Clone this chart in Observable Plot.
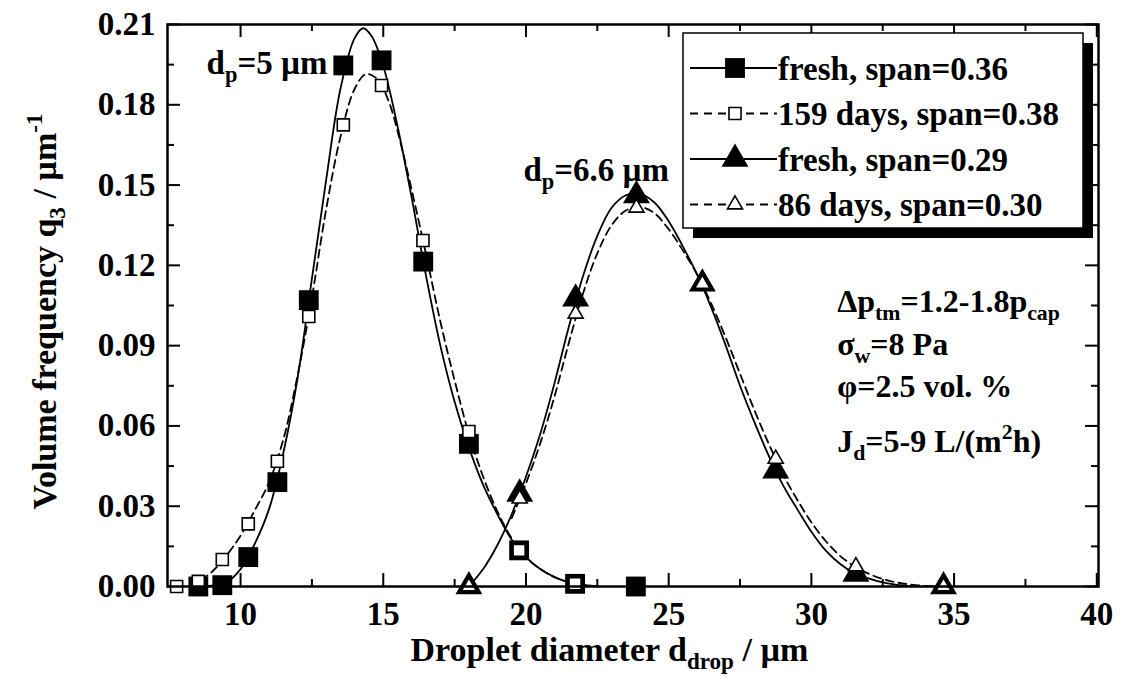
<!DOCTYPE html>
<html><head><meta charset="utf-8">
<script src="https://cdn.jsdelivr.net/npm/d3@7"></script>
<script src="https://cdn.jsdelivr.net/npm/@observablehq/plot@0.6"></script>
<style>
body{margin:0;background:#fff;}
#chart{width:1122px;height:692px;}
</style></head><body><div id="chart"></div>
<script>
// ---------- data ----------
// d_p = 5 µm, fresh (filled squares)
const fresh5X = [8.52, 9.36, 10.27, 11.29, 12.39, 13.60, 14.94, 16.40, 18.00, 19.76, 21.72, 23.85];
const fresh5Y = [0.000, 0.0005, 0.011, 0.039, 0.107, 0.1947, 0.1966, 0.1214, 0.0533, 0.0135, 0.001, 0.000];
// d_p = 5 µm, 159 days (open squares)
const aged5X = [7.76, 8.52, 9.36, 10.27, 11.29, 12.39, 13.60, 14.94, 16.39, 18.00, 19.76, 21.72];
const aged5Y = [0.000, 0.0019, 0.0101, 0.0234, 0.0468, 0.1009, 0.1725, 0.1872, 0.1293, 0.0579, 0.0135, 0.001];
// d_p = 6.6 µm, fresh (filled triangles)
const fresh66X = [18.00, 19.78, 21.74, 23.87, 26.18, 28.75, 31.56, 34.63];
const fresh66Y = [0.000, 0.0346, 0.1075, 0.1461, 0.1131, 0.0433, 0.0047, 0.000];
// d_p = 6.6 µm, 86 days (open triangles)
const aged66X = [18.00, 19.78, 21.74, 23.87, 26.18, 28.75, 31.56, 34.63];
const aged66Y = [0.000, 0.0328, 0.1019, 0.1415, 0.1131, 0.0477, 0.0075, 0.000];

// fitted curves
const fit5FreshX = [8.5, 9.0, 9.5, 10.0, 10.5, 11.0, 11.5, 12.0, 12.5, 13.0, 13.5, 14.0, 14.3, 14.6, 15.0, 15.5, 16.0, 16.5, 17.0, 17.5, 18.0, 18.5, 19.0, 19.5, 20.0, 20.5, 21.0, 21.5, 22.0, 22.5];
const fit5FreshY = [0.000, 0.0003, 0.0015, 0.0065, 0.016, 0.029, 0.050, 0.078, 0.115, 0.152, 0.186, 0.205, 0.2086, 0.2055, 0.1945, 0.172, 0.145, 0.116, 0.090, 0.069, 0.052, 0.038, 0.027, 0.0175, 0.011, 0.0065, 0.0035, 0.0016, 0.0006, 0.0001];
const fit5AgedX = [8.6, 9.0, 9.5, 10.0, 10.5, 11.0, 11.5, 12.0, 12.5, 13.0, 13.5, 14.0, 14.4, 14.8, 15.2, 15.6, 16.0, 16.5, 17.0, 17.5, 18.0, 18.5, 19.0, 19.5, 20.0, 20.5, 21.0, 21.5, 22.0, 22.5];
const fit5AgedY = [0.0025, 0.0055, 0.0115, 0.019, 0.0285, 0.039, 0.055, 0.079, 0.108, 0.141, 0.168, 0.186, 0.1915, 0.1895, 0.181, 0.166, 0.148, 0.124, 0.099, 0.077, 0.057, 0.041, 0.028, 0.018, 0.011, 0.0065, 0.0035, 0.0016, 0.0006, 0.0001];
const fit66FreshX = [18.0, 18.5, 19.0, 19.5, 20.0, 20.5, 21.0, 21.5, 22.0, 22.5, 23.0, 23.5, 24.0, 24.5, 25.0, 25.5, 26.0, 26.5, 27.0, 27.5, 28.0, 28.5, 29.0, 29.5, 30.0, 30.5, 31.0, 31.5, 32.0, 32.5, 33.0, 33.5];
const fit66FreshY = [0.000, 0.0065, 0.0155, 0.027, 0.041, 0.057, 0.076, 0.097, 0.116, 0.131, 0.1415, 0.1462, 0.1467, 0.1435, 0.1365, 0.127, 0.1165, 0.104, 0.090, 0.075, 0.0615, 0.049, 0.038, 0.029, 0.0205, 0.0135, 0.0085, 0.005, 0.003, 0.0015, 0.0006, 0.0001];
const fit66AgedX = [19.5, 20.0, 20.5, 21.0, 21.5, 22.0, 22.5, 23.0, 23.5, 24.0, 24.5, 25.0, 25.5, 26.0, 26.5, 27.0, 27.5, 28.0, 28.5, 29.0, 29.5, 30.0, 30.5, 31.0, 31.5, 32.0, 32.5, 33.0, 33.5, 34.0, 34.5];
const fit66AgedY = [0.0255, 0.0385, 0.0535, 0.071, 0.091, 0.1095, 0.1245, 0.135, 0.1405, 0.1418, 0.1395, 0.1335, 0.1255, 0.1165, 0.1055, 0.093, 0.0795, 0.066, 0.0535, 0.042, 0.0325, 0.024, 0.017, 0.0115, 0.0076, 0.0048, 0.0028, 0.0015, 0.0007, 0.0002, 0.0];

// axes ticks
const xMajor = [10, 15, 20, 25, 30, 35, 40];
const xMinor = [12.5, 17.5, 22.5, 27.5, 32.5, 37.5];
const yMajor = [0, 0.03, 0.06, 0.09, 0.12, 0.15, 0.18, 0.21];
const yMinor = [0.015, 0.045, 0.075, 0.105, 0.135, 0.165, 0.195];

// texts
const xTitle = "Droplet diameter d_{drop} / µm";
const yTitle = "Volume frequency q_{3} / µm^{-1}";
const peakLabels = ["d_{p}=5 µm", "d_{p}=6.6 µm"];
const infoLines = ["Δp_{tm}=1.2-1.8p_{cap}", "σ_{w}=8 Pa", "φ=2.5 vol. %", "J_{d}=5-9 L/(m^{2}h)"];
const legendLabels = ["fresh, span=0.36", "159 days, span=0.38", "fresh, span=0.29", "86 days, span=0.30"];

// ---------- layout ----------
const W = 1122, H = 692, mL = 167, mR = 24, mT = 24, mB = 106;
const plotW = W - mL - mR, plotH = H - mT - mB;
const FONT = '"Liberation Serif","Times New Roman",Times,serif';
const pts = (xs, ys) => xs.map((x, i) => ({x, y: ys[i]}));
const rSqBig = 11.2, rSqSmall = 6.8, rTriBig = 10, rTriSmall = 5.6;
const dash = "8,5";

const plot = Plot.plot({
  width: W, height: H,
  marginLeft: mL, marginRight: mR, marginTop: mT, marginBottom: mB,
  style: {fontFamily: FONT, fontSize: "33px", fontWeight: "bold", background: "white", color: "black", overflow: "visible"},
  x: {domain: [7.44, 40.06], axis: null},
  y: {domain: [0, 0.21], axis: null},
  marks: [
    // inward ticks on all four sides
    Plot.tickX(xMajor, {x: d => d, insetTop: plotH - 13, strokeWidth: 2}),
    Plot.tickX(xMajor, {x: d => d, insetBottom: plotH - 13, strokeWidth: 2}),
    Plot.tickX(xMinor, {x: d => d, insetTop: plotH - 7, strokeWidth: 2}),
    Plot.tickX(xMinor, {x: d => d, insetBottom: plotH - 7, strokeWidth: 2}),
    Plot.tickY(yMajor, {y: d => d, insetRight: plotW - 13, strokeWidth: 2}),
    Plot.tickY(yMajor, {y: d => d, insetLeft: plotW - 13, strokeWidth: 2}),
    Plot.tickY(yMinor, {y: d => d, insetRight: plotW - 7, strokeWidth: 2}),
    Plot.tickY(yMinor, {y: d => d, insetLeft: plotW - 7, strokeWidth: 2}),
    Plot.axisX({ticks: xMajor, tickSize: 0, tickPadding: 15, label: null}),
    Plot.axisY({ticks: yMajor, tickSize: 0, tickPadding: 12, tickFormat: d3.format(".2f"), label: null}),
    // fitted curves
    Plot.line(pts(fit5FreshX, fit5FreshY), {x: "x", y: "y", curve: "catmull-rom", stroke: "black", strokeWidth: 1.8}),
    Plot.line(pts(fit5AgedX, fit5AgedY), {x: "x", y: "y", curve: "catmull-rom", stroke: "black", strokeWidth: 1.8, strokeDasharray: dash}),
    Plot.line(pts(fit66FreshX, fit66FreshY), {x: "x", y: "y", curve: "catmull-rom", stroke: "black", strokeWidth: 1.8}),
    Plot.line(pts(fit66AgedX, fit66AgedY), {x: "x", y: "y", curve: "catmull-rom", stroke: "black", strokeWidth: 1.8, strokeDasharray: dash}),
    // markers
    Plot.dot(pts(fresh5X, fresh5Y), {x: "x", y: "y", symbol: "square", r: rSqBig, fill: "black", stroke: "none"}),
    Plot.dot(pts(fresh66X, fresh66Y), {x: "x", y: "y", symbol: "triangle", r: rTriBig, fill: "black", stroke: "none"}),
    Plot.dot(pts(aged5X, aged5Y), {x: "x", y: "y", symbol: "square", r: rSqSmall, fill: "white", stroke: "black", strokeWidth: 1.6}),
    Plot.dot(pts(aged66X, aged66Y), {x: "x", y: "y", symbol: "triangle", r: rTriSmall, fill: "white", stroke: "black", strokeWidth: 1.6}),
    Plot.frame({stroke: "black", strokeWidth: 2.5}),
    // annotations
    Plot.text([peakLabels[0]], {text: d => d, x: () => 8.81, y: () => 0.1956, textAnchor: "start", fontSize: 33}),
    Plot.text([peakLabels[1]], {text: d => d, x: () => 19.91, y: () => 0.1554, textAnchor: "start", fontSize: 33}),
    Plot.text(infoLines, {text: d => d, x: () => 30.905, y: (d, i) => [0.1064, 0.0904, 0.0745, 0.0540][i], textAnchor: "start", fontSize: 32}),
    // axis titles
    Plot.text([xTitle], {text: d => d, frameAnchor: "bottom-left", dx: 243, dy: 74, textAnchor: "start", fontSize: 34}),
    Plot.text([yTitle], {text: d => d, frameAnchor: "left", dx: 45 - mL, dy: 6, rotate: -90, textAnchor: "middle", fontSize: 34})
  ]
});

document.getElementById("chart").appendChild(plot);

// rich text: _{sub} and ^{sup}
function richify(root) {
  d3.select(root).selectAll("text").each(function() {
    const t = this.textContent;
    if (!/[_^]\{/.test(t)) return;
    const fs = parseFloat(getComputedStyle(this).fontSize);
    const sel = d3.select(this);
    sel.text(null);
    const re = /([_^])\{([^}]*)\}/g;
    let last = 0, m, shift = 0;
    const add = (s, kind) => {
      if (!s) return;
      const target = kind === "_" ? 0.25 * fs : kind === "^" ? -0.42 * fs : 0;
      const ts = sel.append("tspan").text(s).attr("dy", (target - shift).toFixed(2));
      if (kind) ts.attr("font-size", (0.68 * fs).toFixed(1));
      shift = target;
    };
    while ((m = re.exec(t))) {
      add(t.slice(last, m.index), null);
      add(m[2], m[1]);
      last = re.lastIndex;
    }
    add(t.slice(last), null);
  });
}
richify(plot);

// legend box with shadow
const svg = d3.select(plot);
const lx = 683, ly = 33, lw = 400, lh = 195, sh = 10;
const lg = svg.append("g").attr("font-family", FONT).attr("font-weight", "bold").attr("font-size", 33).attr("text-anchor", "start");
lg.append("rect").attr("x", lx + sh).attr("y", ly + sh).attr("width", lw).attr("height", lh).attr("fill", "black");
lg.append("rect").attr("x", lx).attr("y", ly).attr("width", lw).attr("height", lh).attr("fill", "white").attr("stroke", "black").attr("stroke-width", 1.5);
const legendStyle = [
  {dashed: false, type: d3.symbolSquare, r: rSqBig, filled: true},
  {dashed: true, type: d3.symbolSquare, r: rSqSmall, filled: false},
  {dashed: false, type: d3.symbolTriangle, r: rTriBig, filled: true},
  {dashed: true, type: d3.symbolTriangle, r: rTriSmall, filled: false}
];
legendLabels.forEach((lab, i) => {
  const cy = 68 + i * 45.5, st = legendStyle[i];
  lg.append("line").attr("x1", 690).attr("x2", 777).attr("y1", cy).attr("y2", cy)
    .attr("stroke", "black").attr("stroke-width", 1.8).attr("stroke-dasharray", st.dashed ? "8,6" : null);
  lg.append("path").attr("transform", `translate(735,${cy})`)
    .attr("d", d3.symbol().type(st.type).size(Math.PI * st.r * st.r)())
    .attr("fill", st.filled ? "black" : "white").attr("stroke", st.filled ? "none" : "black").attr("stroke-width", 1.6);
  lg.append("text").attr("x", 778).attr("y", cy).attr("dy", "0.35em").attr("text-anchor", "start").text(lab);
});
</script>
</body></html>
